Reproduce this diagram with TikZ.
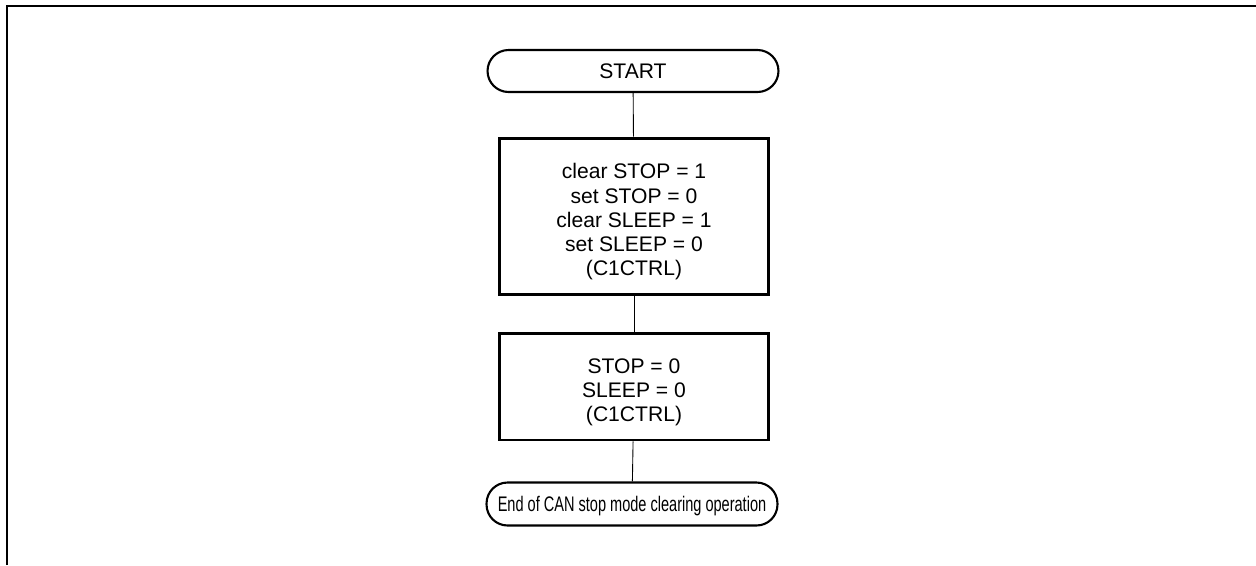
\documentclass[tikz,border=0pt]{standalone}
\usepackage{fontspec}
\setmainfont{Liberation Sans}
\usepackage{tikz}

\begin{document}
\begin{tikzpicture}[x=0.02cm, y=-0.02cm,
  font=\fontsize{12}{13.8}\selectfont,
  terminal/.style={draw, line width=1.2pt, rounded corners=0.42cm,
    minimum width=5.82cm, inner sep=0pt},
  process/.style={draw, line width=1.7pt, minimum width=5.4cm, inner sep=0pt},
  ptext/.style={align=center, inner sep=0pt},
  link/.style={line width=0.5pt}]

% Riquadro
\useasboundingbox (0,0) rectangle (1256,565);
\draw[line width=1.45pt] (7,565) -- (7,6) -- (1256,6);

% Blocchi
\node[terminal, minimum height=0.84cm] (start) at (633,71) {START};

\node[process, minimum height=3.14cm] (clear) at (634,216.5) {};
\node[ptext] (cleartext) at (634,222)
  {clear STOP = 1\\set STOP = 0\\clear SLEEP = 1\\set SLEEP = 0\\(C1CTRL)};

\node[process, minimum height=2.14cm] (check) at (634,386.5) {};
\node[ptext] (checktext) at (634,392.5)
  {STOP = 0\\SLEEP = 0\\(C1CTRL)};

\node[terminal, minimum height=0.86cm, text depth=0pt] (stop) at (632,504)
  {\scalebox{0.69}[1]{End of CAN stop mode clearing operation}};

% Collegamenti
\draw[link] (start) -- (clear);
\draw[link] (clear) -- (check);
\draw[link] (check) -- (stop);

\end{tikzpicture}
\end{document}
